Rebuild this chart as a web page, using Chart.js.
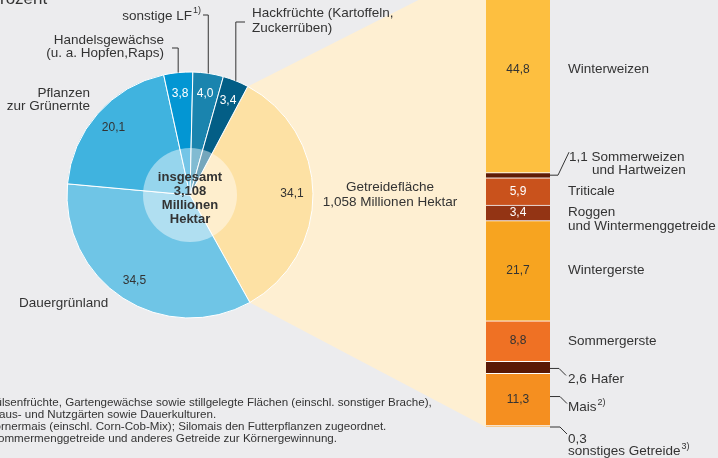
<!DOCTYPE html>
<html lang="de">
<head>
<meta charset="utf-8">
<title>Landwirtschaftlich genutzte Fläche</title>
<script src="https://cdn.jsdelivr.net/npm/chart.js@4.4.1/dist/chart.umd.min.js"></script>
<style>
  html, body { margin: 0; padding: 0; background: #ececee; }
  #wrap { position: relative; width: 718px; height: 458px; overflow: hidden; }
  canvas { position: absolute; top: 0; }
  #pie { left: 0; }
  #bar { left: 470px; }
</style>
</head>
<body>
<div id="wrap">
  <canvas id="pie" width="718" height="458"></canvas>
  <canvas id="bar" width="248" height="458"></canvas>
</div>
<script>
// Anteile an der landwirtschaftlich genutzten Fläche (Prozent)
const pieLabels = ['Getreidefläche', 'Dauergrünland', 'Pflanzen zur Grünernte', 'Handelsgewächse', 'sonstige LF', 'Hackfrüchte'];
const pieValues = [34.1, 34.5, 20.1, 3.8, 4.0, 3.4];
const pieColors = ['#fde1a4', '#6fc5e6', '#40b3df', '#0396d3', '#1a84ae', '#035e86'];

// Getreidefläche nach Arten (Prozent), von oben nach unten
const barLabels = ['Winterweizen', 'Sommerweizen und Hartweizen', 'Triticale', 'Roggen und Wintermenggetreide',
  'Wintergerste', 'Sommergerste', 'Hafer', 'Mais', 'sonstiges Getreide'];
const barValues = [44.8, 1.1, 5.9, 3.4, 21.7, 8.8, 2.6, 11.3, 0.3];
const barColors = ['#fdbf40', '#5e1b06', '#c9521c', '#933414', '#f7a420', '#ef7124', '#5a1905', '#f58f20', '#f7c98a'];

const totalText = ['insgesamt', '3,108', 'Millionen', 'Hektar'];
const cerealText = ['Getreidefläche', '1,058 Millionen Hektar'];
const footnotes = [
  ['1) Hü', 'lsenfrüchte, Gartengewächse sowie stillgelegte Flächen (einschl. sonstiger Brache),', 2],
  ['H', 'aus- und Nutzgärten sowie Dauerkulturen.', -1],
  ['2) Kö', 'rnermais (einschl. Corn-Cob-Mix); Silomais den Futterpflanzen zugeordnet.', 1],
  ['3) S', 'ommermenggetreide und anderes Getreide zur Körnergewinnung.', -2]
];

const FONT = '"Liberation Sans", Arial, sans-serif';
const TEXT = '#333333';
const fmt = v => v.toFixed(1).replace('.', ',');

function text(ctx, str, x, y, size, align, color, weight) {
  ctx.font = (weight || '') + ' ' + size + 'px ' + FONT;
  ctx.textAlign = align || 'left';
  ctx.textBaseline = 'middle';
  ctx.fillStyle = color || TEXT;
  ctx.fillText(str, x, y);
  return ctx.measureText(str).width;
}

function leader(ctx, pts) {
  ctx.beginPath();
  ctx.moveTo(pts[0][0], pts[0][1]);
  for (let i = 1; i < pts.length; i++) ctx.lineTo(pts[i][0], pts[i][1]);
  ctx.strokeStyle = '#333';
  ctx.lineWidth = 1;
  ctx.stroke();
}

// labels next to the bar; dy = offset from segment centre
const barNotes = [
  { lines: [['Winterweizen', 0, 0]] },
  { lines: [['1,1 Sommerweizen', 1, -18], ['und Hartweizen', 24, -5]], lead: [[0, 0], [8, 0], [19, -23]] },
  { lines: [['Triticale', 0, 0]] },
  { lines: [['Roggen', 0, -1], ['und Wintermenggetreide', 0, 13]] },
  { lines: [['Wintergerste', 0, 0]] },
  { lines: [['Sommergerste', 0, 0]] },
  { lines: [['2,6', 0, 12], ['Hafer', 23, 12]], lead: [[0, 1], [9, 1], [16, 8]] },
  { lines: [['Mais', 0, 8]], sup: '2)', lead: [[0, -3], [10, -3], [17, 4]] },
  { lines: [['0,3', 0, 13], ['sonstiges Getreide', 0, 25]], sup: '3)', lead: [[0, 0], [10, 0], [17, 7]] }
];

const barLabelPlugin = {
  id: 'barLabels',
  afterDatasetsDraw(chart) {
    const ctx = chart.ctx;
    const n = barValues.length;
    const right = chart.chartArea.right;
    ctx.save();
    barValues.forEach((v, i) => {
      const el = chart.getDatasetMeta(n - 1 - i).data[0];
      const cy = (el.y + el.base) / 2;
      if (v >= 3) {
        const light = i === 2 || i === 3;
        text(ctx, fmt(v), el.x, cy, 12, 'center', light ? '#fff' : TEXT);
      }
      const note = barNotes[i];
      const tx = right + 18;
      let lastW = 0, last = null;
      note.lines.forEach(l => {
        lastW = text(ctx, l[0], tx + l[1], cy + l[2], 13.5, 'left');
        last = l;
      });
      if (note.sup) text(ctx, note.sup, tx + last[1] + lastW + 1, cy + last[2] - 5, 9, 'left');
      if (note.lead) {
        const base = i === n - 1 ? el.base : cy;
        leader(ctx, note.lead.map(p => [right + p[0], base + p[1]]));
      }
    });
    ctx.restore();
  }
};

const barChart = new Chart(document.getElementById('bar'), {
  type: 'bar',
  data: {
    labels: [''],
    datasets: barLabels.map((label, i) => ({
      label: label,
      data: [barValues[i]],
      backgroundColor: barColors[i],
      borderColor: '#ffffff',
      borderWidth: { top: 1, right: 0, bottom: 0, left: 0 },
      barPercentage: 1,
      categoryPercentage: 1
    })).reverse()
  },
  options: {
    responsive: false,
    animation: false,
    layout: { padding: { left: 16, right: 168, top: 0, bottom: 31 } },
    plugins: { legend: { display: false }, tooltip: { enabled: false } },
    scales: {
      x: { stacked: true, display: false },
      y: { stacked: true, display: false, min: 0, max: 92.5 }
    }
  },
  plugins: [barLabelPlugin]
});

// cream fan from the cereal slice to the bar
const fanPlugin = {
  id: 'fan',
  beforeDatasetsDraw(chart) {
    const arc = chart.getDatasetMeta(0).data[0];
    const r = arc.outerRadius;
    const total = barValues.reduce((a, b) => a + b, 0);
    const bx = 470 + barChart.chartArea.left;
    const top = barChart.scales.y.getPixelForValue(total);
    const bottom = barChart.scales.y.getPixelForValue(0);
    const ctx = chart.ctx;
    ctx.save();
    ctx.beginPath();
    ctx.moveTo(arc.x, arc.y);
    ctx.lineTo(arc.x + r * Math.cos(arc.startAngle), arc.y + r * Math.sin(arc.startAngle));
    ctx.lineTo(bx, top);
    ctx.lineTo(bx, bottom);
    ctx.lineTo(arc.x + r * Math.cos(arc.endAngle), arc.y + r * Math.sin(arc.endAngle));
    ctx.closePath();
    ctx.fillStyle = '#feefd2';
    ctx.fill();
    ctx.restore();
  }
};

const pieLabelPlugin = {
  id: 'pieLabels',
  afterDatasetsDraw(chart) {
    const ctx = chart.ctx;
    const arcs = chart.getDatasetMeta(0).data;
    const cx = arcs[0].x, cy = arcs[0].y, r = arcs[0].outerRadius;
    ctx.save();
    // light centre disc
    ctx.beginPath();
    ctx.arc(cx, cy, 47, 0, Math.PI * 2);
    ctx.fillStyle = 'rgba(255,255,255,0.45)';
    ctx.fill();

    const mid = a => (a.startAngle + a.endAngle) / 2;
    const edge = (a, rr) => [cx + rr * Math.cos(mid(a)), cy + rr * Math.sin(mid(a))];
    arcs.forEach((a, i) => {
      const p = edge(a, 102);
      text(ctx, fmt(pieValues[i]), p[0], p[1], 12, 'center', i >= 3 ? '#fff' : TEXT);
    });

    totalText.forEach((t, i) => text(ctx, t, cx, cy - 18 + i * 14.3, 13, 'center', TEXT, 'bold'));

    // outer labels
    text(ctx, 'Pflanzen', 90, 93, 13.5, 'right');
    text(ctx, 'zur Grünernte', 90, 106, 13.5, 'right');
    text(ctx, 'Dauergrünland', 19, 303, 13.5, 'left');
    text(ctx, 'Handelsgewächse', 164, 40, 13.5, 'right');
    text(ctx, '(u. a. Hopfen,Raps)', 164, 53, 13.5, 'right');
    const p3 = edge(arcs[3], r);
    leader(ctx, [[172, 48], [p3[0], 48], p3]);
    text(ctx, 'sonstige LF', 192, 16, 13.5, 'right');
    text(ctx, '1)', 193, 11, 9, 'left');
    const p4 = edge(arcs[4], r);
    leader(ctx, [[203, 15], [p4[0], 15], p4]);
    text(ctx, 'Hackfrüchte (Kartoffeln,', 252, 13, 13.5, 'left');
    text(ctx, 'Zuckerrüben)', 252, 28, 13.5, 'left');
    const p5 = edge(arcs[5], r);
    leader(ctx, [[245, 22], [p5[0], 22], p5]);

    text(ctx, cerealText[0], 390, 187, 13.5, 'center');
    text(ctx, cerealText[1], 390, 202, 13.5, 'center');

    // cut-off heading and footnotes
    ctx.font = '17px ' + FONT;
    const pw = ctx.measureText('P').width;
    ctx.textBaseline = 'alphabetic';
    ctx.textAlign = 'left';
    ctx.fillStyle = TEXT;
    ctx.fillText('Prozent', -pw, 4);

    footnotes.forEach((f, i) => {
      ctx.font = '11.6px ' + FONT;
      const w = ctx.measureText(f[0]).width;
      text(ctx, f[0] + f[1], f[2] - w, 403 + i * 11.8, 11.6, 'left');
    });
    ctx.restore();
  }
};

const pieChart = new Chart(document.getElementById('pie'), {
  type: 'pie',
  data: {
    labels: pieLabels,
    datasets: [{
      data: pieValues,
      backgroundColor: pieColors,
      borderColor: '#ffffff',
      borderWidth: 1
    }]
  },
  options: {
    responsive: false,
    animation: false,
    rotation: 28,
    radius: 123,
    layout: { padding: { left: 60, right: 398, top: 65, bottom: 133 } },
    plugins: { legend: { display: false }, tooltip: { enabled: false } }
  },
  plugins: [fanPlugin, pieLabelPlugin]
});
</script>
</body>
</html>
